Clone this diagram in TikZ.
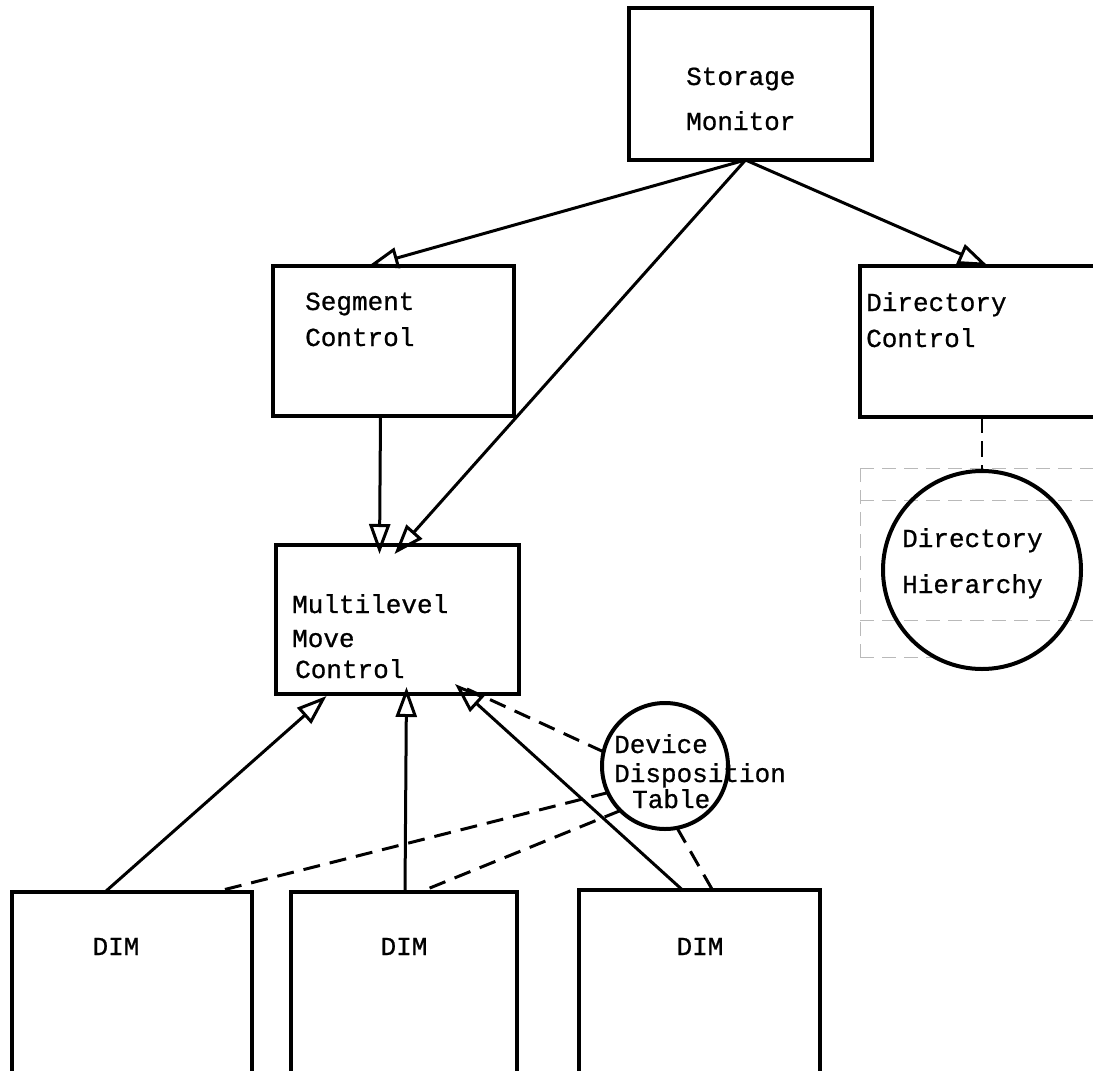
\documentclass[tikz,border=0pt]{standalone}
\usepackage{fontspec}
\newfontfamily\tw[FakeBold=0.8]{Liberation Mono}
\usetikzlibrary{arrows.meta}
\tikzset{
  box/.style={draw, line width=3.4pt, inner sep=0pt, outer sep=0pt, anchor=north west},
  store/.style={draw, circle, line width=4pt, inner sep=0pt, outer sep=0pt},
  txt/.style={font=\tw\fontsize{26}{36}\selectfont, inner sep=0pt, anchor=base west},
  ctxt/.style={txt, anchor=base},
  arr/.style={line width=3pt, -{Triangle[open, length=30pt, width=21pt]}},
  dline/.style={line width=3pt, dash pattern=on 17pt off 10pt},
  faint/.style={gray!55, line width=0.8pt, dash pattern=on 14pt off 8pt}
}
\begin{document}
\begin{tikzpicture}[x=1pt,y=-1pt]
\useasboundingbox (0,0) rectangle (1093,1071);
% boxes
\node[box, minimum width=243pt, minimum height=152pt] (sm) at (629,8) {};
\node[box, minimum width=241pt, minimum height=150pt] (seg) at (273,266) {};
\node[box, minimum width=250pt, minimum height=151pt] (dir) at (860,266) {};
\node[box, minimum width=243pt, minimum height=149pt] (ml) at (276,545) {};
\node[box, minimum width=240pt, minimum height=200pt] (d1) at (12,892) {};
\node[box, minimum width=226pt, minimum height=200pt] (d2) at (291,892) {};
\node[box, minimum width=241pt, minimum height=202pt] (d3) at (579,890) {};
% faint dashed remnants around the directory hierarchy
\draw[faint] (860,468) -- (1093,468);
\draw[faint] (860,500) -- (1093,500);
\draw[faint] (860,620) -- (1093,620);
\draw[faint] (860,657) -- (940,657);
\draw[faint] (860,468) -- (860,657);
% stores
\node[store, minimum size=198pt] (dh) at (982,570) {};
\node[store, minimum size=126pt] (ddt) at (665,766) {};
% texts
\node[txt] (smt1) at (686,85) {Storage};
\node[txt] (smt2) at (686,130) {Monitor};
\node[txt] (segt1) at (305,310) {Segment};
\node[txt] (segt2) at (305,346) {Control};
\node[txt] (dirt1) at (866,311) {Directory};
\node[txt] (dirt2) at (866,347) {Control};
\node[txt] (mlt1) at (292,613) {Multilevel};
\node[txt] (mlt2) at (292,647) {Move};
\node[txt] (mlt3) at (295,678) {Control};
\node[txt] (dht1) at (902,547) {Directory};
\node[txt] (dht2) at (902,593) {Hierarchy};
\node[txt] (ddtt1) at (614,753) {Device};
\node[txt] (ddtt2) at (614,782) {Disposition};
\node[txt] (ddtt3) at (632,808) {Table};
\node[ctxt] (d1t) at (116,955) {DIM};
\node[ctxt] (d2t) at (404,955) {DIM};
\node[ctxt] (d3t) at (700,955) {DIM};
% solid arrows
\draw[arr] ([xshift=-5pt]sm.south) -- ([xshift=-25pt]seg.north);
\draw[arr] ([xshift=-5pt]sm.south) -- ([xshift=-3pt,yshift=-9pt]ml.north);
\draw[arr] ([xshift=-5pt]sm.south) -- ([xshift=3pt]dir.north);
\draw[arr] ([xshift=-13pt]seg.south) -- ([xshift=-18pt,yshift=-9pt]ml.north);
\draw[arr] ([xshift=-27pt]d1.north) -- ([xshift=-71pt,yshift=-2pt]ml.south);
\draw[arr] ([xshift=1pt]d2.north) -- ([xshift=9pt,yshift=7pt]ml.south);
\draw[arr] ([xshift=-17pt]d3.north) -- ([xshift=-64pt,yshift=10pt]ml.south east);
% dashed links
\draw[dline] (ddt.167) -- ([xshift=-52pt,yshift=5pt]ml.south east);
\draw[dline] (ddt.205) -- ([xshift=-37pt]d1.north east);
\draw[dline] (ddt.225) -- ([xshift=16pt]d2.north);
\draw[dline] (ddt.281) -- ([xshift=13pt]d3.north);
\draw[line width=2.6pt, dash pattern=on 16pt off 8pt] (dh.north |- dir.south) -- (dh.north);
\end{tikzpicture}
\end{document}
